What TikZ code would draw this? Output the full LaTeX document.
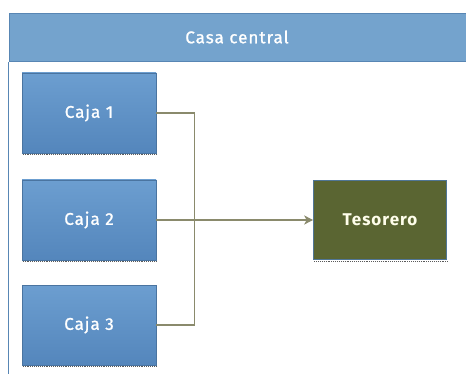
\documentclass[tikz,border=0pt]{standalone}
\usepackage{fontspec}
\setmainfont{Fira Sans}[LetterSpace=6]
\newfontfamily\semibold{Fira Sans}[LetterSpace=6, FakeBold=1.2]
\usetikzlibrary{arrows.meta}
\definecolor{hdrfill}{RGB}{116,163,205}
\definecolor{hdrline}{RGB}{88,134,180}
\definecolor{cajatop}{RGB}{108,158,208}
\definecolor{cajabot}{RGB}{84,134,188}
\definecolor{cajaline}{RGB}{74,116,160}
\definecolor{tesfill}{RGB}{90,101,50}
\definecolor{tesline}{RGB}{80,118,150}
\definecolor{conn}{RGB}{138,138,108}
\definecolor{shad}{RGB}{90,90,90}
\tikzset{
  txt/.style={text=white, font=\semibold\fontsize{17}{20}\selectfont},
  caja/.style={txt, draw=cajaline, line width=0.6pt, top color=cajatop, bottom color=cajabot,
    minimum width=134pt, minimum height=80pt, inner sep=0pt},
  tes/.style={txt, text=white!92!yellow, draw=tesline, line width=0.6pt, fill=tesfill, font=\fontsize{17}{20}\selectfont\bfseries,
    minimum width=133pt, minimum height=79pt, inner sep=0pt},
  hdr/.style={txt, draw=hdrline, line width=0.8pt, fill=hdrfill, minimum width=470pt, minimum height=48pt, inner sep=0pt},
  wire/.style={draw=conn, line width=1.2pt},
  shadowline/.style={draw=shad, densely dotted, line width=0.9pt}
}
\begin{document}
\begin{tikzpicture}[x=1pt,y=-1pt]
\useasboundingbox (0,0) rectangle (466,374);
\clip (0,0) rectangle (466,374);
\node[hdr, anchor=north west] (hdr) at (8.5,13) {};
\node[txt] (hdrtxt) at (237,37) {Casa central};
\draw[draw=hdrline, line width=0.8pt] (hdr.south west) -- (8.5,380);
\node[caja] (c1) at (89,113) {Caja 1};
\node[caja] (c2) at (89,220) {Caja 2};
\node[caja] (c3) at (89,325) {Caja 3};
\node[tes] (t) at (380,220) {Tesorero};
\foreach \n in {c1,c2,c3,t}{
  \draw[shadowline] ([yshift=-1.2pt,xshift=1pt]\n.south west) -- ([yshift=-1.2pt,xshift=1pt]\n.south east);
}
\coordinate (bus) at (194.5,0);
\draw[wire] (c1.east) -- (c1.east -| bus) -- (c3.east -| bus) -- (c3.east);
\draw[wire, -{Stealth[length=9pt,width=9pt,inset=2.5pt]}] (c2.east) -- (t.west);
\end{tikzpicture}
\end{document}
